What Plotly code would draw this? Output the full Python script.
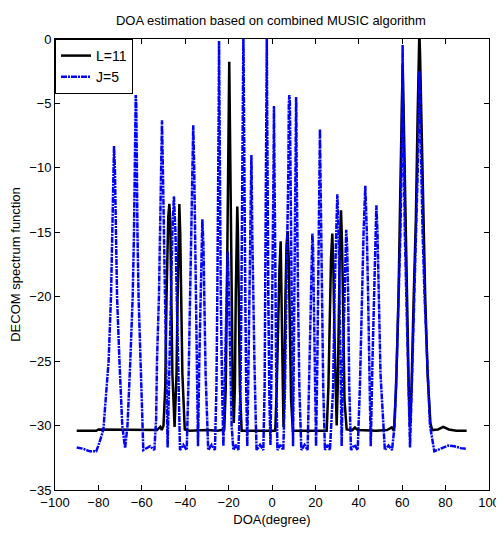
import plotly.graph_objects as go

# L=11 curve (black)
l11_x = [-90, -81, -80, -55, -53, -51.5, -50.8, -50.0, -49.2, -48.6, -48.2, -47.8, -47.3, -46.9, -46.4,
         -45.9, -44.9, -44.0, -43.5, -43.1, -42.7, -42.3, -41.9, -41.3, -40.2, -38, -30, -25, -22,
         -21.3, -20.8, -20.4, -20.1, -19.9, -19.7, -19.5, -19.3, -19.0, -18.6, -18.1, -17.6, -17.1,
         -16.7, -16.3, -16.0, -15.7, -15.3, -14.8, -14.0, -10, -5, 1.5, 2.2, 2.8, 3.4, 4.0, 4.5, 5.0,
         5.3, 5.7, 6.2, 6.7, 7.2, 7.7, 8.2, 8.8, 9.6, 15, 20, 25.2, 26.0, 26.6, 27.2, 27.8, 28.3, 28.8,
         29.3, 29.8, 30.3, 30.8, 31.3, 31.8, 32.3, 32.8, 33.4, 34.4, 37, 38.2, 39.5, 48, 53, 55.2,
         56.2, 57.2, 58.3, 59.1, 59.8, 60.2, 60.6, 61.3, 62.2, 63.0, 63.6, 64.3, 65.3, 66.3, 67.1,
         67.7, 67.9, 68.2, 68.8, 69.6, 70.6, 71.7, 73.0, 73.8, 76.5, 78.9, 81.5, 85, 89.7]
l11_y = [-30.4, -30.4, -30.3, -30.3, -30.35, -30.1, -30.35, -30.0, -27, -20, -14.5, -13.8, -12.8, -14, -20,
         -26, -30.1, -26, -20, -15, -12.8, -15, -20, -26, -30.3, -30.4, -30.35, -30.4, -30.3,
         -27, -20, -15, -10, -5, -1.76, -5, -10, -15, -20, -27, -29.8, -27,
         -20, -15, -13, -15, -20, -27, -30.4, -30.4, -30.35, -30.4, -27, -22, -18, -15.7, -20, -27,
         -30.1, -27, -20, -16, -14.9, -17, -22, -28, -30.4, -30.4, -30.35, -30.4, -27, -21, -17, -15.1, -18, -23,
         -28, -30.0, -27, -21, -16, -13.3, -16, -21, -28, -30.3, -30.35, -30.15, -30.35, -30.4, -30.35, -30.15,
         -30.4, -27, -20, -12, -5, -2, -5, -12, -20, -27, -30.0, -27, -20, -14, -6,
         -1, 0.5, -1, -6, -14, -20, -26, -29.8, -30.35, -30.3, -30.1, -30.3, -30.4, -30.4]

# J=5 curve (blue)
j5_x = [-90, -87, -84, -81, -79.5, -77.7, -75.3, -74.2, -73.6, -73.2, -72.8, -72.4, -72.0, -71.4, -70.3,
        -69, -67.7,
        -66.6, -65.3, -64.2, -63.6, -63.25, -63.05, -62.8, -62.55, -62.35, -62.0, -61.5, -60.6, -59.9,
        -59.3, -56.2, -54.2,
        -53.4, -53.0, -52.1, -51.5, -51.1, -50.7, -50.3, -49.9, -49.3, -48.8, -48.1,
        -47.2, -46.6, -45.9, -45.2, -44.5, -43.9, -43.3, -42.4, -40.9, -39.3,
        -38.4, -37.7, -37.1, -36.75, -36.3, -35.85, -35.5, -35.0, -34.5, -34.1,
        -33.5, -33.0, -32.6, -32.1, -31.6, -31.2, -30.6, -29.4, -27.8, -26.3,
        -25.6, -25.2, -24.9, -24.7, -24.55, -24.4, -24.25, -24.1, -23.9, -23.6, -23.0, -22.4,
        -21.6, -21.0, -20.4, -19.8, -19.2, -18.6, -17.8, -16.6, -15.5,
        -14.5, -14.1, -13.8, -13.6, -13.45, -13.3, -13.2, -13.1, -12.95, -12.8, -12.6, -12.3, -11.9, -11.4,
        -10.8, -10.3, -9.9, -9.6, -9.5, -9.4, -9.1, -8.7, -8.1, -7.5, -7.1, -5.5, -4.0,
        -3.4, -3.1, -2.85, -2.7, -2.55, -2.4, -2.25, -2.1, -1.95, -1.7, -1.2, -0.7,
        -0.2, 0.2, 0.5, 0.7, 0.9, 1.1, 1.35, 1.7, 2.0, 2.5, 3.8, 5.2,
        6.0, 6.6, 7.2, 7.55, 7.75, 8.0, 8.25, 8.45, 8.8, 9.1, 9.5, 9.7,
        10.0, 10.4, 10.7, 10.9, 11.0, 11.1, 11.2, 11.35, 11.6, 12.0, 12.6, 13.5, 15.0, 16.4,
        17.3, 17.8, 18.3, 18.6, 18.9, 19.3, 19.8, 20.3,
        20.9, 21.3, 21.65, 21.9, 22.1, 22.3, 22.6, 23.0, 23.6, 24.4, 25.5, 26.7,
        28.2, 28.8, 29.5, 30.1, 30.7, 31.2, 31.7, 32.1,
        32.7, 33.3, 33.8, 34.2, 34.6, 35.1, 35.6, 36.4, 38.0, 39.5,
        40.5, 41.4, 42.2, 43.0, 43.7, 44.3, 45.0, 45.5,
        46.3, 47.0, 47.6, 48.1, 48.6, 49.2, 50.0, 52.0, 53.7, 55.3,
        56.5, 57.5, 58.5, 59.2, 59.7, 60.0, 60.2, 60.4, 60.7, 61.2, 61.9, 62.6, 63.6,
        64.6, 65.5, 66.5, 67.2, 67.6, 67.9, 68.2, 68.7, 69.4, 70.3, 71.4, 72.8, 74.8, 78, 81.2, 84,
        87, 89.7]
j5_y = [-31.7, -31.8, -32.0, -32.0, -31.3, -30.3, -25, -20, -15, -10, -8.3, -10, -15, -20, -25,
        -30, -31.75,
        -30, -25, -20, -15, -10, -5, -4.35, -5, -10, -15, -20, -25, -29.5,
        -31.9, -31.6, -31.9,
        -29.5, -25, -20, -15, -10, -6.3, -10, -15, -20, -25, -31.7,
        -25, -20, -15, -12.2, -15, -20, -26, -31.9, -31.5, -31.9,
        -26, -20, -15, -10, -6.7, -10, -15, -20, -27, -31.6,
        -25, -20, -16, -14, -16, -20, -26, -31.9, -31.5, -31.9,
        -27, -20, -15, -10, -5, -0.15, -5, -10, -15, -20, -27, -31.6,
        -25, -20, -16.5, -20, -25, -30, -31.9, -31.5, -31.9,
        -27, -20, -15, -10, -5, -1, 0, -1, -5, -10, -15, -20, -27, -31.6,
        -25, -20, -15, -10, -9, -10, -15, -20, -25, -29.5, -31.9, -31.5, -31.9,
        -27, -20, -15, -10, -5, 0, -5, -10, -15, -20, -28, -31.5,
        -25, -20, -15, -10, -5.2, -10, -15, -20, -27, -31.9, -31.5, -31.9,
        -27, -20, -15, -10, -5, -4.35, -5, -10, -15, -20, -28, -31.6,
        -25, -20, -15, -10, -5, -4.5, -5, -10, -15, -20, -27, -31.9, -31.5, -31.9,
        -25, -20, -16, -15.1, -16, -20, -27, -31.6,
        -25, -20, -15, -10, -7, -10, -15, -20, -27, -31.9, -31.5, -31.9,
        -27, -20, -15, -12.05, -15, -20, -27, -31.6,
        -25, -20, -16, -14.8, -16, -20, -27, -31.9, -31.5, -31.9,
        -27, -20, -15, -11.4, -15, -20, -28, -31.6,
        -25, -20, -15, -12.9, -15, -20, -26, -31.9, -31.55, -31.9,
        -30, -25, -20, -15, -10, -5, -0.47, -5, -10, -15, -20, -26, -31.7,
        -26, -20, -15, -10, -5, -2.5, -5, -10, -15, -20, -25, -30, -32.0, -31.8, -31.55, -31.6,
        -31.75, -31.8]

x_ticks = list(range(-100, 101, 20))
y_ticks = list(range(-35, 1, 5))

fig = go.Figure()
fig.add_trace(go.Scatter(x=l11_x, y=l11_y, mode="lines", name="L=11",
                         line=dict(color="black", width=2.5)))
fig.add_trace(go.Scatter(x=j5_x, y=j5_y, mode="lines", name="J=5",
                         line=dict(color="blue", width=2.5, dash="6px,1px,2px,1px")))

axis_style = dict(showline=True, linecolor="black", linewidth=1, mirror="ticks",
                  ticks="inside", ticklen=5, tickcolor="black", showgrid=False,
                  zeroline=False, automargin=False, tickfont=dict(size=13, color="black"))

# the page body adds ~8px around the plot, so the figure is a bit smaller than the window
fig.update_layout(
    width=496, height=527,
    margin=dict(l=47, r=15, t=31, b=45),
    plot_bgcolor="white", paper_bgcolor="white",
    font=dict(family="Liberation Sans, Arial, sans-serif", size=13, color="black"),
    title=dict(text="DOA estimation based on combined MUSIC algorithm", x=0.53, xanchor="center",
               y=0.977, yanchor="middle", font=dict(size=13)),
    xaxis=dict(range=[-100, 100], tickvals=x_ticks,
               title=dict(text="DOA(degree)", standoff=6, font=dict(size=13)), **axis_style),
    yaxis=dict(range=[-35, 0], tickvals=y_ticks,
               title=dict(text="DECOM spectrum function", standoff=6, font=dict(size=13)), **axis_style),
    legend=dict(x=0, y=1, xanchor="left", yanchor="top", bgcolor="white",
                bordercolor="black", borderwidth=1, font=dict(size=14)),
    showlegend=True,
)

fig.write_html("out.html")
